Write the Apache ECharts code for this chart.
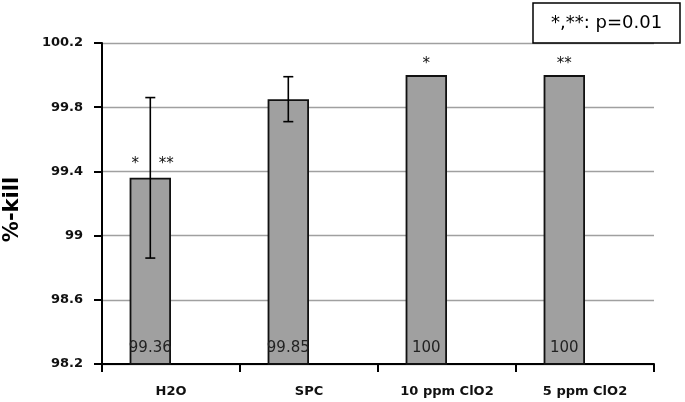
<!DOCTYPE html>
<html>
<head>
<meta charset="utf-8">
<script src="https://cdn.jsdelivr.net/npm/echarts@6/dist/echarts.min.js"></script>
<style>html,body{margin:0;padding:0;background:#fff}#c{width:685px;height:402px}</style>
</head>
<body>
<div id="c"></div>
<script>
var categories = ['H2O', 'SPC', '10 ppm ClO2', '5 ppm ClO2'];
var killValues = [99.36, 99.85, 100, 100];
var errorValues = [0.5, 0.14, 0, 0];
var starsLeft = ['*', '', '*', '**'];
var starsRight = ['**', '', '', ''];
var yTicks = {min: 98.2, max: 100.2, interval: 0.4};
var noteText = '*,**: p=0.01';
var yTitle = '%-kill';

var FONT = 'DejaVu Sans';
var chart = echarts.init(document.getElementById('c'));

function barOffset(api) { return -api.size([1, 0])[0] * 0.15; }

var errData = categories.map(function (c, i) { return [i, killValues[i], errorValues[i]]; });
var starData = categories.map(function (c, i) { return [i, killValues[i], starsLeft[i], starsRight[i]]; });

chart.setOption({
  animation: false,
  textStyle: {fontFamily: FONT},
  title: {
    text: noteText,
    left: 533, top: 3,
    borderColor: '#000', borderWidth: 1.5,
    padding: [10, 18, 10, 18],
    textStyle: {fontFamily: FONT, fontSize: 18, fontWeight: 'normal', color: '#000', lineHeight: 20}
  },
  grid: {left: 102, right: 31, top: 43, bottom: 38, containLabel: false, outerBoundsMode: 'none'},
  xAxis: {
    type: 'category',
    data: categories,
    axisLine: {lineStyle: {color: '#000', width: 2}},
    axisTick: {show: true, length: 8, lineStyle: {color: '#000', width: 2}},
    axisLabel: {color: '#111', fontSize: 13, fontWeight: 'bold', margin: 21, fontFamily: FONT}
  },
  yAxis: {
    type: 'value',
    min: yTicks.min, max: yTicks.max, interval: yTicks.interval,
    name: yTitle, nameLocation: 'middle', nameGap: 79, nameRotate: 90,
    nameTextStyle: {fontSize: 21, fontWeight: 'bold', color: '#000', fontFamily: FONT, padding: [0, 12, 0, 0]},
    axisLine: {show: true, lineStyle: {color: '#000', width: 2}},
    axisTick: {show: true, length: 8, lineStyle: {color: '#000', width: 2}},
    axisLabel: {color: '#111', fontSize: 13, fontWeight: 'bold', margin: 19, fontFamily: FONT},
    splitLine: {lineStyle: {color: '#a0a0a0', width: 1.3}}
  },
  series: [
    {
      type: 'bar',
      data: killValues,
      barGap: '0%',
      barCategoryGap: '40%',
      itemStyle: {color: '#a0a0a0', borderColor: '#111', borderWidth: 1.8},
      label: {show: true, position: 'insideBottom', distance: 9, color: '#222', fontSize: 15, fontFamily: FONT,
        formatter: function (p) { return String(p.value); }}
    },
    {
      type: 'bar',
      data: categories.map(function () { return '-'; })
    },
    {
      type: 'custom',
      data: errData,
      z: 5,
      renderItem: function (params, api) {
        var e = api.value(2);
        if (!e) return null;
        var x = api.value(0), v = api.value(1);
        var top = api.coord([x, v + e]);
        var bot = api.coord([x, v - e]);
        var dx = barOffset(api);
        var cx = top[0] + dx, hw = 5;
        var st = {stroke: '#000', lineWidth: 1.6};
        return {type: 'group', children: [
          {type: 'line', shape: {x1: cx, y1: top[1], x2: cx, y2: bot[1]}, style: st},
          {type: 'line', shape: {x1: cx - hw, y1: top[1], x2: cx + hw, y2: top[1]}, style: st},
          {type: 'line', shape: {x1: cx - hw, y1: bot[1], x2: cx + hw, y2: bot[1]}, style: st}
        ]};
      }
    },
    {
      type: 'custom',
      data: starData,
      z: 6,
      renderItem: function (params, api) {
        var x = api.value(0), v = api.value(1);
        var p = api.coord([x, v]);
        var dx = barOffset(api);
        var cx = p[0] + dx;
        var l = starData[params.dataIndex][2], r = starData[params.dataIndex][3];
        var st = {fill: '#111', font: '15px "' + FONT + '"', textAlign: 'center', textVerticalAlign: 'middle'};
        var ch = [];
        if (r) {
          ch.push({type: 'text', style: Object.assign({}, st, {text: l, x: cx - 15, y: p[1] - 14})});
          ch.push({type: 'text', style: Object.assign({}, st, {text: r, x: cx + 16, y: p[1] - 14})});
        } else if (l) {
          ch.push({type: 'text', style: Object.assign({}, st, {text: l, x: cx, y: p[1] - 11})});
        }
        return {type: 'group', children: ch};
      }
    }
  ]
});
</script>
</body>
</html>
